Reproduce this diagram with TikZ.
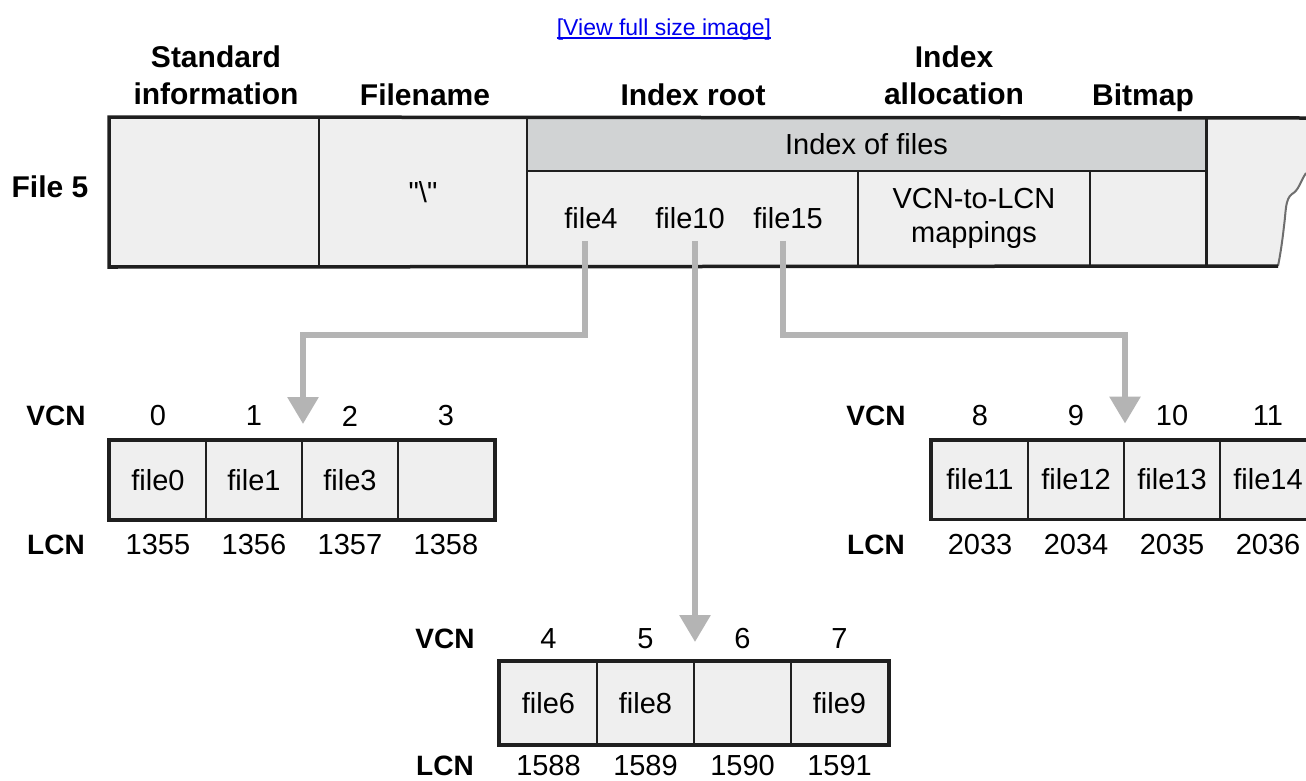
\documentclass[tikz,border=0pt]{standalone}
\usepackage{fontspec}
\setmainfont{Liberation Sans}
\usetikzlibrary{arrows.meta}
\definecolor{cellgray}{HTML}{EFEFEF}
\definecolor{bandgray}{HTML}{D1D3D4}
\definecolor{framec}{HTML}{1F1F1F}
\definecolor{connc}{HTML}{B4B4B4}
\definecolor{linkblue}{HTML}{0000EE}
\definecolor{tornc}{HTML}{6E6E6E}
\begin{document}
\begin{tikzpicture}[x=1pt,y=-1pt,
  txt/.style={font=\fontsize{29}{34}\selectfont},
  head/.style={font=\bfseries\fontsize{30}{37}\selectfont, inner sep=0pt},
  lbl/.style={font=\bfseries\fontsize{28}{34}\selectfont, inner sep=0pt},
  num/.style={font=\fontsize{29}{34}\selectfont, inner sep=0pt},
  cell/.style={draw=framec, line width=2pt, fill=cellgray, inner sep=0pt, font=\fontsize{29}{34}\selectfont},
  blk/.style={cell, minimum width=96pt, minimum height=78pt},
  blkb/.style={cell, minimum width=97pt, minimum height=82pt},
  frame/.style={draw=framec, line width=3.5pt},
  conn/.style={draw=connc, line width=6pt, -{Triangle[width=30pt,length=27pt]}, shorten >=16pt},
]
\clip (0,0) rectangle (1306,780);
\fill[white] (0,0) rectangle (1306,780);

% link
\node[font=\fontsize{23}{27}\selectfont, text=linkblue, anchor=base, inner sep=0pt] (link) at (664,35) {[View full size image]};
\draw[linkblue, line width=1.5pt] ([yshift=-3pt]link.base west) -- ([yshift=-3pt]link.base east);

% headings
\node[head, anchor=south, align=center] (hstd) at (216,105) {Standard\\information};
\node[head, anchor=base] (hfn) at (425,105) {Filename};
\node[head, anchor=base] (hir) at (693,105) {Index root};
\node[head, anchor=south, align=center] (hia) at (954,105) {Index\\allocation};
\node[head, anchor=base] (hbm) at (1143,105) {Bitmap};
\node[head, anchor=base] (f5) at (50,197) {File 5};

% main record
\node[cell, minimum width=209pt, minimum height=148pt] (std) at (214.5,192) {};
\node[cell, minimum width=208pt, minimum height=148pt] (fn) at (423,192) {\textquotedbl\textbackslash\textquotedbl};
\node[cell, fill=bandgray, minimum width=679pt, minimum height=53pt] (band) at (866.5,144.5) {Index of files};
\node[cell, minimum width=331pt, minimum height=95pt] (ir) at (692.5,218.5) {};
\node[cell, align=center, minimum width=232pt, minimum height=95pt] (map) at (974,218.5) {VCN-to-LCN\\mappings};
\node[cell, minimum width=116pt, minimum height=95pt] (bmp) at (1148,218.5) {};
\coordinate (tr) at (1306,118);
\coordinate (te) at (1306,173);
\coordinate (br) at (1278,266);
\fill[cellgray] (band.north east) -- (tr) -- (te)
  .. controls (1300,182) and (1299,190) .. (1292,194)
  .. controls (1285,199) and (1286,212) .. (1284,226)
  .. controls (1282,244) and (1280,256) .. (br) -- (bmp.south east) -- cycle;
\draw[tornc, line width=2pt] (te)
  .. controls (1300,182) and (1299,190) .. (1292,194)
  .. controls (1285,199) and (1286,212) .. (1284,226)
  .. controls (1282,244) and (1280,256) .. (br);
\draw[frame] (band.east |- bmp.south) -- (bmp.south east);
\draw[framec, line width=2pt] (band.north east) -- (bmp.south east);
\draw[frame] (tr) -- (std.north west) -- (std.south west) -- (br);

\node[txt, anchor=base] (f4) at (591,228) {file4};
\node[txt, anchor=base] (f10) at (690,228) {file10};
\node[txt, anchor=base] (f15) at (788,228) {file15};

% left run
\node[blk] (a0) at (158,480) {file0};
\node[blk] (a1) at (254,480) {file1};
\node[blk] (a2) at (350,480) {file3};
\node[blk] (a3) at (446,480) {};
\draw[frame] (a0.north west) rectangle (a3.south east);
\node[lbl] (avcn) at (56,416) {VCN};
\node[lbl] (alcn) at (56,545) {LCN};
\node[num] at (a0 |- avcn) {0};
\node[num] at (a1 |- avcn) {1};
\node[num] at (a2 |- avcn) {2};
\node[num] at (a3 |- avcn) {3};
\node[num] at (a0 |- alcn) {1355};
\node[num] at (a1 |- alcn) {1356};
\node[num] at (a2 |- alcn) {1357};
\node[num] at (a3 |- alcn) {1358};

% right run
\node[blk] (r0) at (980,479.5) {file11};
\node[blk] (r1) at (1076,479.5) {file12};
\node[blk] (r2) at (1172,479.5) {file13};
\node[blk] (r3) at (1268,479.5) {file14};
\draw[frame] (r0.north west) rectangle (r3.south east);
\node[lbl] (rvcn) at (876,416) {VCN};
\node[lbl] (rlcn) at (876,545) {LCN};
\node[num] at (r0 |- rvcn) {8};
\node[num] at (r1 |- rvcn) {9};
\node[num] at (r2 |- rvcn) {10};
\node[num] at (r3 |- rvcn) {11};
\node[num] at (r0 |- rlcn) {2033};
\node[num] at (r1 |- rlcn) {2034};
\node[num] at (r2 |- rlcn) {2035};
\node[num] at (r3 |- rlcn) {2036};

% bottom run
\node[blkb] (b0) at (548.5,703) {file6};
\node[blkb] (b1) at (645.5,703) {file8};
\node[blkb] (b2) at (742.5,703) {};
\node[blkb] (b3) at (839.5,703) {file9};
\draw[frame] (b0.north west) rectangle (b3.south east);
\node[lbl] (bvcn) at (445,639) {VCN};
\node[lbl] (blcn) at (445,766) {LCN};
\node[num] at (b0 |- bvcn) {4};
\node[num] at (b1 |- bvcn) {5};
\node[num] at (b2 |- bvcn) {6};
\node[num] at (b3 |- bvcn) {7};
\node[num] at (b0 |- blcn) {1588};
\node[num] at (b1 |- blcn) {1589};
\node[num] at (b2 |- blcn) {1590};
\node[num] at (b3 |- blcn) {1591};

% connectors
\draw[conn] ([xshift=-6pt,yshift=-9pt]f4.south) |- ([yshift=105pt]a1.north east) -- (a1.north east);
\draw[conn, shorten <=9pt, shorten >=19pt] (f10.south -| b1.north east) -- (b1.north east);
\draw[conn] ([xshift=-5pt,yshift=-9pt]f15.south) |- ([yshift=105pt]r1.north east) -- (r1.north east);
\end{tikzpicture}
\end{document}
